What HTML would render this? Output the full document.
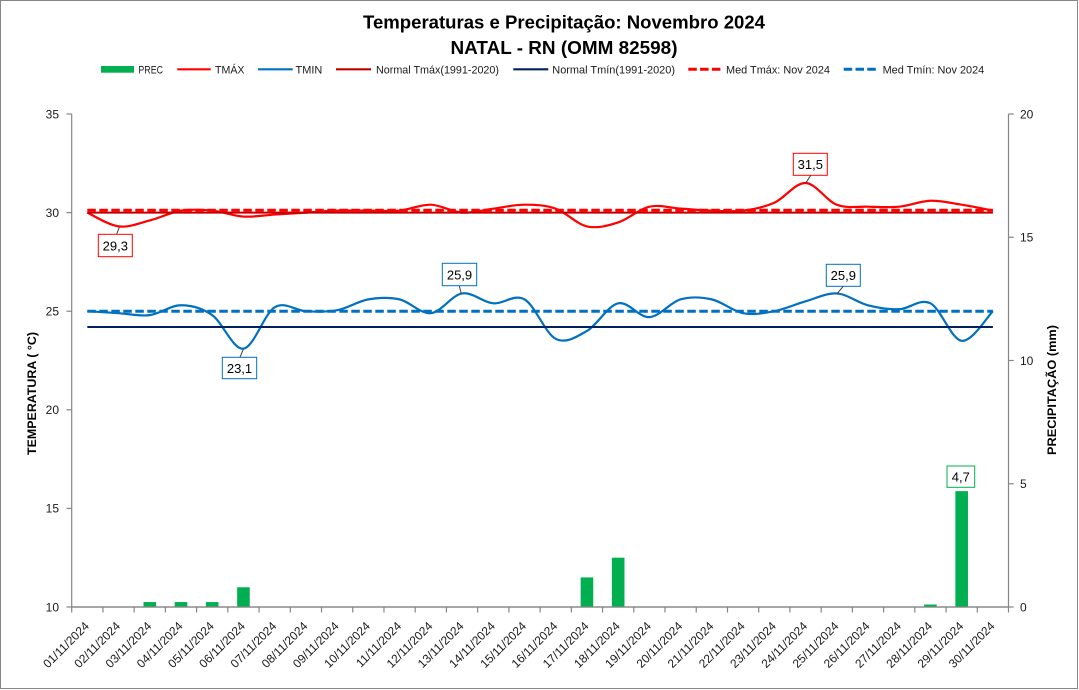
<!DOCTYPE html>
<html><head><meta charset="utf-8">
<style>
html,body{margin:0;padding:0;background:#fff;}
svg{display:block;font-family:"Liberation Sans",sans-serif;}
</style></head>
<body>
<svg id="c" width="1079" height="690" viewBox="0 0 1079 690" xmlns="http://www.w3.org/2000/svg">
<rect x="0.5" y="0.5" width="1077" height="688" fill="#fff" stroke="#868686" stroke-width="1"/>

<!-- Title -->
<text x="564" y="28.3" font-size="18.5" font-weight="bold" text-anchor="middle" textLength="402" lengthAdjust="spacingAndGlyphs" fill="#000">Temperaturas  e Precipitação: Novembro 2024</text>
<text x="564" y="54" font-size="18.5" font-weight="bold" text-anchor="middle" textLength="227" lengthAdjust="spacingAndGlyphs" fill="#000">NATAL - RN (OMM 82598)</text>

<!-- Legend -->
<g font-size="11" fill="#1a1a1a">
<rect x="101" y="66" width="33" height="6.7" fill="#00B050"/>
<text x="138.4" y="73.3" textLength="24.6" lengthAdjust="spacingAndGlyphs">PREC</text>
<line x1="177.3" y1="69.3" x2="210.7" y2="69.3" stroke="#FF0000" stroke-width="2.2"/>
<text x="215" y="73.3" textLength="29.5" lengthAdjust="spacingAndGlyphs">TMÁX</text>
<line x1="258" y1="69.3" x2="292.7" y2="69.3" stroke="#0070C0" stroke-width="2.2"/>
<text x="295.5" y="73.3" textLength="26.8" lengthAdjust="spacingAndGlyphs">TMIN</text>
<line x1="336" y1="69.3" x2="371" y2="69.3" stroke="#C00000" stroke-width="2.2"/>
<text x="376" y="73.3" textLength="123" lengthAdjust="spacingAndGlyphs">Normal Tmáx(1991-2020)</text>
<line x1="513.3" y1="69.3" x2="548.3" y2="69.3" stroke="#002060" stroke-width="2.2"/>
<text x="552.3" y="73.3" textLength="122.7" lengthAdjust="spacingAndGlyphs">Normal Tmín(1991-2020)</text>
<line x1="688.3" y1="69.3" x2="720.5" y2="69.3" stroke="#FF0000" stroke-width="3" stroke-dasharray="8.5,3.3"/>
<text x="726" y="73.3" textLength="104" lengthAdjust="spacingAndGlyphs">Med Tmáx: Nov 2024</text>
<line x1="843.7" y1="69.3" x2="876.4" y2="69.3" stroke="#0070C0" stroke-width="3" stroke-dasharray="8.5,3.3"/>
<text x="882.6" y="73.3" textLength="101.6" lengthAdjust="spacingAndGlyphs">Med Tmín: Nov 2024</text>
</g>

<!-- Axes -->
<g id="axes" stroke="#868686" stroke-width="1.2" fill="none">
<line x1="71.7" y1="114" x2="71.7" y2="607"/>
<line x1="1008.5" y1="114" x2="1008.5" y2="607"/>
<line x1="71.7" y1="607" x2="1008.5" y2="607"/>
</g>

<!-- Left tick labels -->
<g font-size="12" fill="#1a1a1a" text-anchor="end">
<text x="59" y="118.3">35</text>
<text x="59" y="216.9">30</text>
<text x="59" y="315.5">25</text>
<text x="59" y="414.1">20</text>
<text x="59" y="512.7">15</text>
<text x="59" y="611.3">10</text>
</g>
<!-- Right tick labels -->
<g font-size="12" fill="#1a1a1a" text-anchor="start">
<text x="1020" y="118.3">20</text>
<text x="1020" y="241.6">15</text>
<text x="1020" y="364.8">10</text>
<text x="1020" y="488">5</text>
<text x="1020" y="611.3">0</text>
</g>

<!-- Axis titles -->
<text transform="translate(36,393.5) rotate(-90)" font-size="12" font-weight="bold" text-anchor="middle" textLength="123" lengthAdjust="spacingAndGlyphs" fill="#000">TEMPERATURA ( °C)</text>
<text transform="translate(1056,390) rotate(-90)" font-size="12" font-weight="bold" text-anchor="middle" textLength="130" lengthAdjust="spacingAndGlyphs" fill="#000">PRECIPITAÇÃO (mm)</text>

<!-- X labels -->
<g id="xl" font-size="12" fill="#1a1a1a" text-anchor="end">
<text transform="translate(89.8,626.8) rotate(-45)">01/11/2024</text>
<text transform="translate(121.0,626.8) rotate(-45)">02/11/2024</text>
<text transform="translate(152.2,626.8) rotate(-45)">03/11/2024</text>
<text transform="translate(183.5,626.8) rotate(-45)">04/11/2024</text>
<text transform="translate(214.7,626.8) rotate(-45)">05/11/2024</text>
<text transform="translate(245.9,626.8) rotate(-45)">06/11/2024</text>
<text transform="translate(277.2,626.8) rotate(-45)">07/11/2024</text>
<text transform="translate(308.4,626.8) rotate(-45)">08/11/2024</text>
<text transform="translate(339.6,626.8) rotate(-45)">09/11/2024</text>
<text transform="translate(370.9,626.8) rotate(-45)">10/11/2024</text>
<text transform="translate(402.1,626.8) rotate(-45)">11/11/2024</text>
<text transform="translate(433.3,626.8) rotate(-45)">12/11/2024</text>
<text transform="translate(464.5,626.8) rotate(-45)">13/11/2024</text>
<text transform="translate(495.8,626.8) rotate(-45)">14/11/2024</text>
<text transform="translate(527.0,626.8) rotate(-45)">15/11/2024</text>
<text transform="translate(558.2,626.8) rotate(-45)">16/11/2024</text>
<text transform="translate(589.5,626.8) rotate(-45)">17/11/2024</text>
<text transform="translate(620.7,626.8) rotate(-45)">18/11/2024</text>
<text transform="translate(651.9,626.8) rotate(-45)">19/11/2024</text>
<text transform="translate(683.2,626.8) rotate(-45)">20/11/2024</text>
<text transform="translate(714.4,626.8) rotate(-45)">21/11/2024</text>
<text transform="translate(745.6,626.8) rotate(-45)">22/11/2024</text>
<text transform="translate(776.9,626.8) rotate(-45)">23/11/2024</text>
<text transform="translate(808.1,626.8) rotate(-45)">24/11/2024</text>
<text transform="translate(839.3,626.8) rotate(-45)">25/11/2024</text>
<text transform="translate(870.5,626.8) rotate(-45)">26/11/2024</text>
<text transform="translate(901.8,626.8) rotate(-45)">27/11/2024</text>
<text transform="translate(933.0,626.8) rotate(-45)">28/11/2024</text>
<text transform="translate(964.2,626.8) rotate(-45)">29/11/2024</text>
<text transform="translate(995.5,626.8) rotate(-45)">30/11/2024</text>
</g>

<g id="bars"></g>
<g id="ticks"></g>
<g id="series"></g>

<!-- Annotations -->
<g id="ann" font-size="13" fill="#000" text-anchor="middle">
<line x1="116.7" y1="234" x2="119.3" y2="227.3" stroke="#404040" stroke-width="1"/>
<rect x="98.3" y="234.3" width="34" height="22.4" fill="#fff" stroke="#FF0000" stroke-width="1"/>
<text x="115.3" y="250.3">29,3</text>

<line x1="240" y1="357.3" x2="243.3" y2="349.3" stroke="#404040" stroke-width="1"/>
<rect x="222.3" y="357.3" width="34.4" height="21.4" fill="#fff" stroke="#0070C0" stroke-width="1"/>
<text x="239.5" y="372.8">23,1</text>

<line x1="459.3" y1="285.7" x2="461.3" y2="294" stroke="#404040" stroke-width="1"/>
<rect x="442.3" y="263.3" width="34.4" height="22.4" fill="#fff" stroke="#0070C0" stroke-width="1"/>
<text x="459.5" y="279.3">25,9</text>

<line x1="810.7" y1="175.3" x2="805.7" y2="183.3" stroke="#404040" stroke-width="1"/>
<rect x="793.3" y="153.3" width="34" height="22" fill="#fff" stroke="#FF0000" stroke-width="1"/>
<text x="810.3" y="169.1">31,5</text>

<line x1="843.3" y1="286.3" x2="836.7" y2="294" stroke="#404040" stroke-width="1"/>
<rect x="826.3" y="264.3" width="34" height="22" fill="#fff" stroke="#0070C0" stroke-width="1"/>
<text x="843.3" y="280.1">25,9</text>

<rect x="947" y="466" width="27.7" height="21.3" fill="#fff" stroke="#00B050" stroke-width="1"/>
<text x="960.8" y="481.5">4,7</text>
</g>
</svg>
<script>
(function(){
var NS="http://www.w3.org/2000/svg";
var X0=71.7, W=31.227;
function cx(i){return X0+W*(i+0.5);}
function yT(t){return 607-(t-10)*19.72;}
function yP(p){return 607-p*24.65;}
function el(tag,attrs,parent){var e=document.createElementNS(NS,tag);for(var k in attrs)e.setAttribute(k,attrs[k]);parent.appendChild(e);return e;}
var tmax=[30.0,29.3,29.6,30.1,30.1,29.8,29.9,30.0,30.1,30.1,30.1,30.4,30.0,30.2,30.4,30.2,29.3,29.5,30.3,30.2,30.1,30.1,30.5,31.5,30.4,30.3,30.3,30.6,30.4,30.1];
var tmin=[25.0,24.9,24.8,25.3,24.8,23.1,25.2,25.0,25.05,25.6,25.6,24.9,25.9,25.4,25.6,23.6,24.0,25.4,24.7,25.6,25.6,24.9,25.0,25.5,25.9,25.3,25.1,25.4,23.5,25.0];
var prec=[0,0,0.2,0.2,0.2,0.8,0,0,0,0,0,0,0,0,0,0,1.2,2.0,0,0,0,0,0,0,0,0,0,0.1,4.7,0];
// bars
var bars=document.getElementById('bars');
for(var i=0;i<30;i++){ if(prec[i]>0){ var y=yP(prec[i]); el('rect',{x:(cx(i)-6.3).toFixed(2),y:y.toFixed(2),width:12.6,height:(607-y).toFixed(2),fill:'#00B050'},bars);} }
// ticks
var tk=document.getElementById('ticks');
var g=el('g',{stroke:'#868686','stroke-width':1.2},tk);
for(var k=0;k<=30;k++){var x=X0+W*k; el('line',{x1:x.toFixed(2),y1:607,x2:x.toFixed(2),y2:612.5},g);}
for(var v=10;v<=35;v+=5){var y=yT(v); el('line',{x1:66.5,y1:y.toFixed(2),x2:71.7,y2:y.toFixed(2)},g);}
for(var p=0;p<=20;p+=5){var y=yP(p); el('line',{x1:1008.5,y1:y.toFixed(2),x2:1013.7,y2:y.toFixed(2)},g);}
// redraw axis lines on top of bars
el('line',{x1:71.7,y1:607,x2:1008.5,y2:607},g);
// smooth path
function smooth(vals){
  var pts=vals.map(function(v,i){return [cx(i),yT(v)];});
  var d='M'+pts[0][0].toFixed(2)+','+pts[0][1].toFixed(2);
  for(var i=0;i<pts.length-1;i++){
    var p0=pts[i>0?i-1:i],p1=pts[i],p2=pts[i+1],p3=pts[i+2<pts.length?i+2:i+1];
    var t=1/6;
    var c1x=p1[0]+(p2[0]-p0[0])*t,c1y=p1[1]+(p2[1]-p0[1])*t;
    var c2x=p2[0]-(p3[0]-p1[0])*t,c2y=p2[1]-(p3[1]-p1[1])*t;
    d+='C'+c1x.toFixed(2)+','+c1y.toFixed(2)+' '+c2x.toFixed(2)+','+c2y.toFixed(2)+' '+p2[0].toFixed(2)+','+p2[1].toFixed(2);
  }
  return d;
}
var s=document.getElementById('series');
var xa=cx(0), xb=cx(29);
el('path',{d:smooth(tmax),fill:'none',stroke:'#FF0000','stroke-width':2.2,'stroke-linejoin':'round'},s);
el('path',{d:smooth(tmin),fill:'none',stroke:'#0070C0','stroke-width':2.2,'stroke-linejoin':'round'},s);
el('line',{x1:xa,y1:yT(30.0),x2:xb,y2:yT(30.0),stroke:'#C00000','stroke-width':2},s);
el('line',{x1:xa,y1:yT(24.2),x2:xb,y2:yT(24.2),stroke:'#002060','stroke-width':2},s);
el('line',{x1:xa,y1:yT(30.12),x2:xb,y2:yT(30.12),stroke:'#FF0000','stroke-width':3,'stroke-dasharray':'8.5,3.5'},s);
el('line',{x1:xa,y1:yT(25.0),x2:xb,y2:yT(25.0),stroke:'#0070C0','stroke-width':3,'stroke-dasharray':'8.5,3.5'},s);
})();
</script>
</body></html>
